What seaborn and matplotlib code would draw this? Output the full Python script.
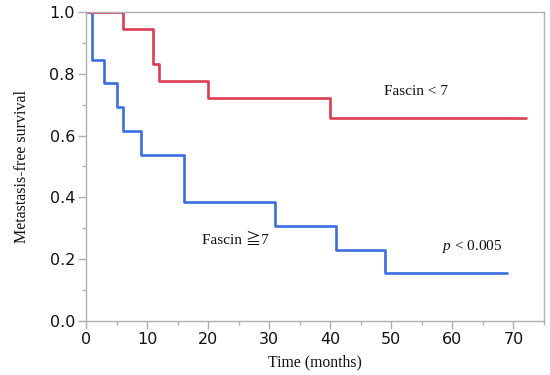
import matplotlib
matplotlib.use("Agg")
import matplotlib.pyplot as plt
import seaborn as sns
import pandas as pd
from matplotlib.ticker import MultipleLocator

# Data (Kaplan-Meier steps)
low_times = [0, 6, 11, 12, 20, 40, 72]
low_surv = [1.0, 0.944, 0.833, 0.778, 0.722, 0.656, 0.656]
high_times = [0, 1, 3, 5, 6, 9, 16, 31, 41, 49, 69]
high_surv = [1.0, 0.846, 0.769, 0.692, 0.615, 0.538, 0.385, 0.308, 0.231, 0.154, 0.154]

x_ticks = [0, 10, 20, 30, 40, 50, 60, 70]
y_ticks = [0.0, 0.2, 0.4, 0.6, 0.8, 1.0]

sns.set_style("white")
plt.rcParams['mathtext.fontset'] = 'custom'
plt.rcParams['mathtext.rm'] = 'Liberation Serif'
plt.rcParams['mathtext.it'] = 'Liberation Serif:italic'

df_low = pd.DataFrame({"time": low_times, "surv": low_surv})
df_high = pd.DataFrame({"time": high_times, "surv": high_surv})

fig = plt.figure(figsize=(5.5, 3.75), dpi=100)
ax = fig.add_axes([0.1564, 0.144, 0.8326, 0.824])

sns.lineplot(data=df_high, x="time", y="surv", ax=ax, color="#3a6ee0",
             linewidth=1.9, drawstyle="steps-post", estimator=None)
sns.lineplot(data=df_low, x="time", y="surv", ax=ax, color="#dc3c52",
             linewidth=1.9, drawstyle="steps-post", estimator=None)

ax.set_xlim(0, 75)
ax.set_ylim(0, 1.0)
ax.set_xticks(x_ticks)
ax.set_yticks(y_ticks)
ax.set_yticklabels([f"{v:.1f}" for v in y_ticks])
ax.xaxis.set_minor_locator(MultipleLocator(5))
ax.yaxis.set_minor_locator(MultipleLocator(0.1))

for sp in ax.spines.values():
    sp.set_color("#b0b0b0")
    sp.set_linewidth(1.0)

ax.tick_params(axis="both", which="major", direction="out", length=6, width=1,
               color="#b0b0b0", labelsize=11.5, labelcolor="#111111", pad=2,
               bottom=True, left=True)
ax.tick_params(axis="both", which="minor", direction="out", length=3, width=1,
               color="#b0b0b0", bottom=True, left=True)
for lbl in ax.get_xticklabels() + ax.get_yticklabels():
    lbl.set_family("DejaVu Sans")

serif = ["Liberation Serif", "Noto Sans CJK JP"]
ax.set_xlabel("Time (months)", family=serif, fontsize=11.3, labelpad=5, color="#111111")
ax.set_ylabel("Metastasis-free survival", family=serif, fontsize=11.5, labelpad=14, color="#111111")

ax.text(54.1, 0.742, "Fascin < 7", family=serif, fontsize=11, ha="center", va="center", color="#111111")
ax.text(24.5, 0.261, "Fascin \u22677", family=serif, fontsize=11, ha="center", va="center", color="#111111")
ax.text(63.2, 0.242, r"$\it{p}$ < 0.005", family=serif, fontsize=11, ha="center", va="center", color="#111111")

fig.savefig("out.png", dpi=100)
